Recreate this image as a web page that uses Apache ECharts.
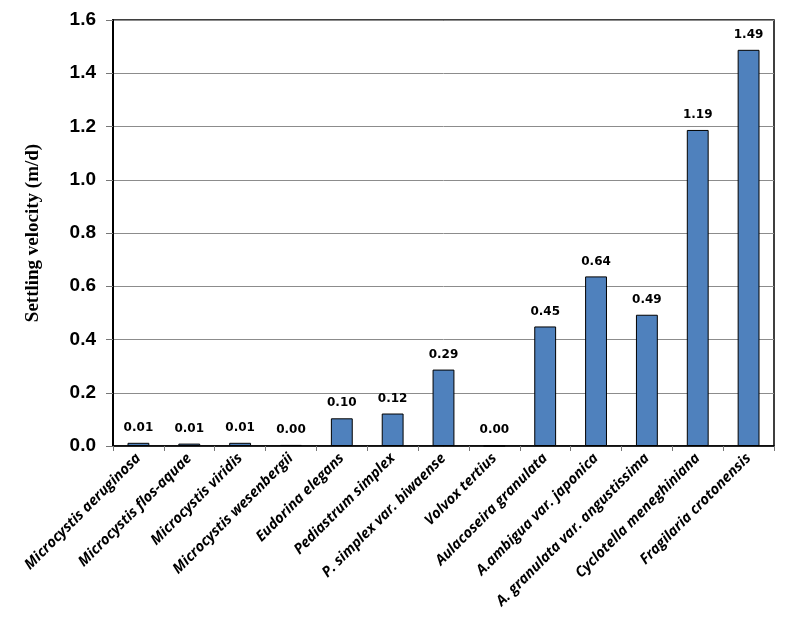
<!DOCTYPE html>
<html>
<head>
<meta charset="utf-8">
<script src="https://cdn.jsdelivr.net/npm/echarts@6/dist/echarts.min.js"></script>
<style>
html,body{margin:0;padding:0;background:#fff;}
#chart{width:789px;height:642px;}
</style>
</head>
<body>
<div id="chart"></div>
<script>
// species names (x axis)
var species = ["Microcystis aeruginosa", "Microcystis flos-aquae", "Microcystis viridis",
	"Microcystis wesenbergii", "Eudorina elegans", "Pediastrum simplex",
	"P. simplex var. biwaense", "Volvox tertius", "Aulacoseira granulata",
	"A.ambigua var. japonica", "A. granulata var. angustissima",
	"Cyclotella meneghiniana", "Fragilaria crotonensis"];
// settling velocity, m/d
var velocity = [0.012, 0.009, 0.012, 0.004, 0.104, 0.122, 0.287, 0.001, 0.449, 0.637, 0.493, 1.187, 1.488];
var yTicks = [0, 0.2, 0.4, 0.6, 0.8, 1.0, 1.2, 1.4, 1.6];

var chart = echarts.init(document.getElementById("chart"));
var option = {
	animation: false,
	grid: {left: 113, right: 15, top: 20, bottom: 196, show: true, borderColor: "#000", borderWidth: 1.5},
	xAxis: {
		type: "category",
		data: species,
		axisLine: {lineStyle: {color: "#000", width: 1.5}},
		axisTick: {show: true, alignWithLabel: false, length: 5, lineStyle: {color: "#777"}},
		axisLabel: {
			rotate: 45, interval: 0, margin: 10,
			fontFamily: "Open Sans", fontStyle: "italic", fontWeight: "bold",
			fontSize: 14.5, color: "#000"
		}
	},
	yAxis: {
		type: "value",
		min: yTicks[0], max: yTicks[yTicks.length - 1], interval: 0.2,
		name: "Settling velocity (m/d)",
		nameLocation: "middle", nameGap: 70,
		nameTextStyle: {fontFamily: "Liberation Serif", fontWeight: "bold", fontSize: 19, color: "#000"},
		axisLine: {show: true, lineStyle: {color: "#000", width: 2}},
		axisTick: {show: true, length: 7, lineStyle: {color: "#777"}},
		splitLine: {lineStyle: {color: "#8c8c8c", width: 1}},
		axisLabel: {
			formatter: function (v) { return v.toFixed(1); },
			fontFamily: "Liberation Sans", fontWeight: "bold", fontSize: 19, color: "#000", margin: 17
		}
	},
	series: [{
		type: "bar",
		data: velocity,
		barWidth: "43%",
		itemStyle: {color: "#4f81bd", borderColor: "#000", borderWidth: 1},
		label: {
			show: true, position: "top", distance: 9,
			formatter: function (p) { return p.value.toFixed(2); },
			fontFamily: "DejaVu Sans", fontWeight: "bold", fontSize: 12, color: "#000"
		}
	}]
};
chart.setOption(option);
</script>
</body>
</html>
